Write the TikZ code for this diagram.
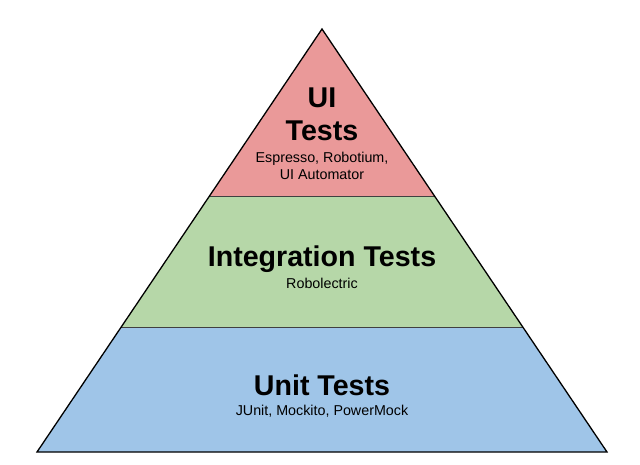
\documentclass[tikz,border=0pt]{standalone}
\usepackage{fontspec}
\setmainfont{Liberation Sans}
\definecolor{uired}{HTML}{EA9999}
\definecolor{intgreen}{HTML}{B6D7A8}
\definecolor{unitblue}{HTML}{9FC5E8}
\begin{document}
\begin{tikzpicture}[x=1pt,y=-1pt,
  title/.style={font=\fontsize{28.6}{32}\selectfont\bfseries, anchor=base, inner sep=0pt},
  sub/.style={font=\fontsize{14.3}{16}\selectfont, anchor=base, inner sep=0pt},
  divider/.style={draw=black!75, line width=0.8pt}]
\useasboundingbox (0,0) rectangle (640,464);
\coordinate (apex) at (322,29);
\coordinate (l1) at (209.5,196);
\coordinate (r1) at (434.5,196);
\coordinate (l2) at (121.2,327);
\coordinate (r2) at (522.8,327);
\coordinate (bl) at (37,452);
\coordinate (br) at (607,452);
\fill[uired] (apex) -- (r1) -- (l1) -- cycle;
\fill[intgreen] (l1) -- (r1) -- (r2) -- (l2) -- cycle;
\fill[unitblue] (l2) -- (r2) -- (br) -- (bl) -- cycle;
\draw[divider] (l1) -- (r1);
\draw[divider] (l2) -- (r2);
\draw[black, line width=1.3pt, line join=miter] (apex) -- (br) -- (bl) -- cycle;
\node[title] (ui1) at (322,107) {UI};
\node[title] (ui2) at (322,140) {Tests};
\node[sub] (ui3) at (322,162) {Espresso, Robotium,};
\node[sub] (ui4) at (322,179) {UI Automator};
\node[title] (it1) at (322,266.5) {Integration Tests};
\node[sub] (it2) at (322,288) {Robolectric};
\node[title] (ut1) at (322,395) {Unit Tests};
\node[sub] (ut2) at (322,415.5) {JUnit, Mockito, PowerMock};
\end{tikzpicture}
\end{document}
